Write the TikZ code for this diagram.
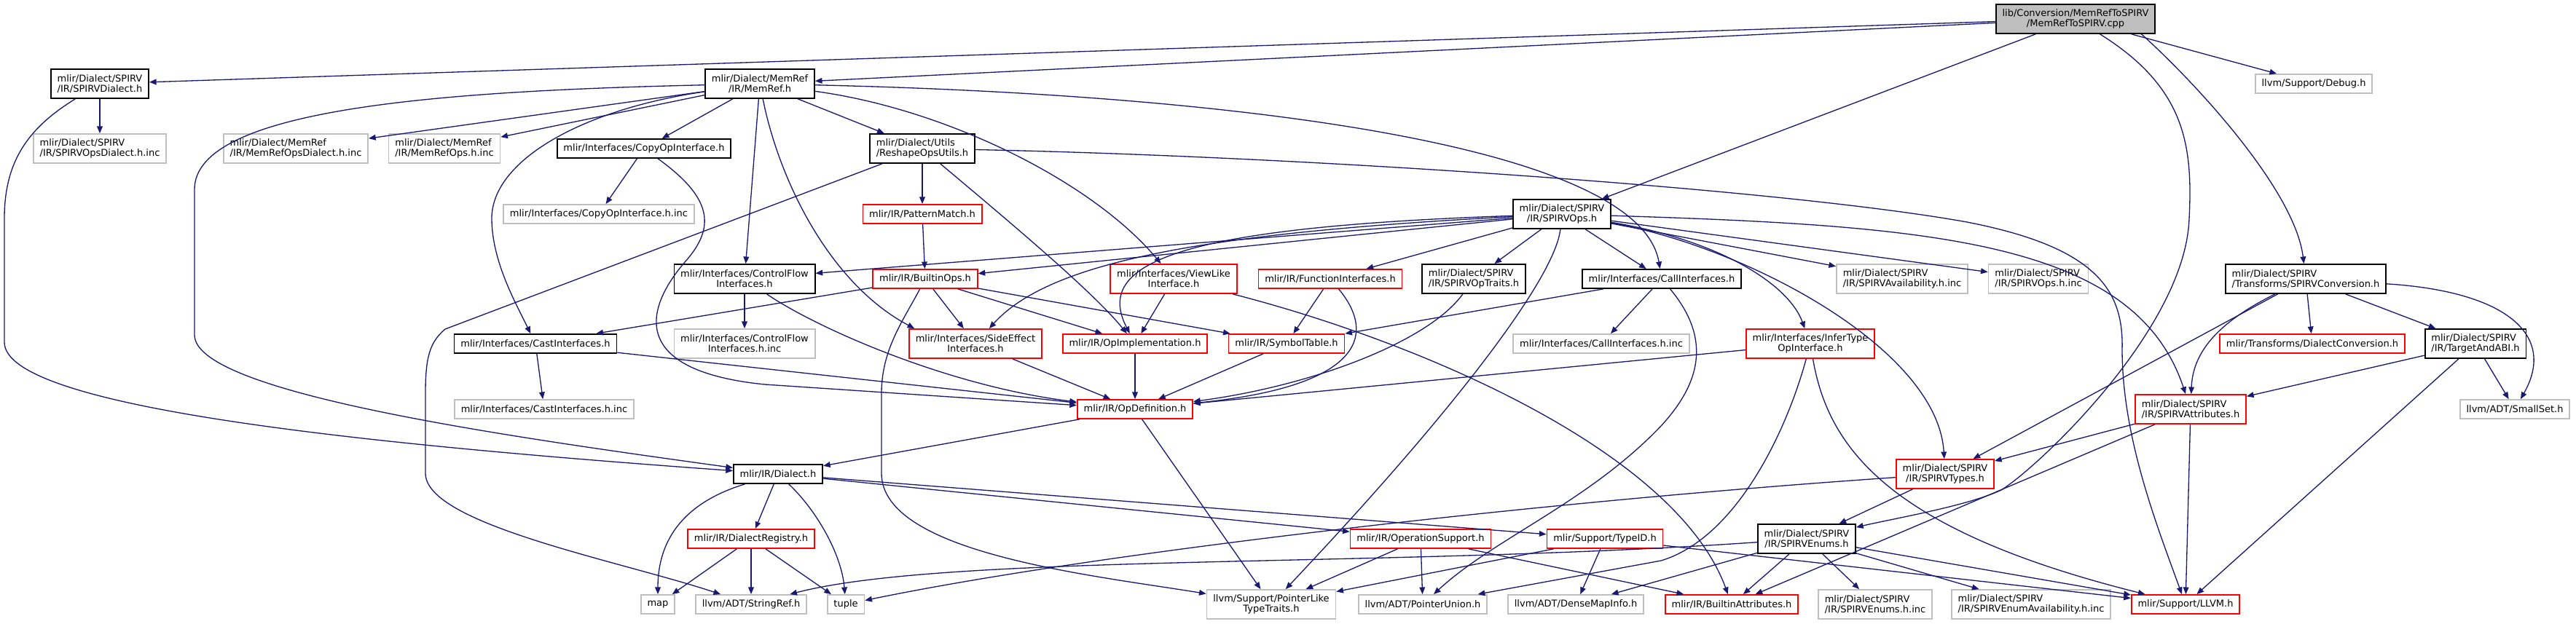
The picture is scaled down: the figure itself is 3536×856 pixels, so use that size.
\documentclass[tikz,border=0pt]{standalone}
\usepackage{fontspec}
\usepackage{tikz}
\usetikzlibrary{arrows.meta}
\newfontfamily\dxfont{DejaVu Sans}
\definecolor{edgeblue}{RGB}{25,25,112}
\definecolor{extgray}{RGB}{191,191,191}
\definecolor{rootgray}{RGB}{191,191,191}
\tikzset{
  hdrbox/.style={rectangle, draw=black, fill=white, align=center,
    inner xsep=5pt, inner ysep=2pt, minimum height=0.52cm,
    font=\dxfont\fontsize{7.4pt}{8pt}\selectfont, line width=1pt},
  redbox/.style={hdrbox, draw=red},
  extbox/.style={hdrbox, draw=extgray},
  rootbox/.style={hdrbox, fill=rootgray},
  tall/.style={minimum height=0.8cm, align=center},
  tallL/.style={minimum height=0.8cm, align=left},
  arrow/.style={-{Triangle[length=5.5pt, width=4.4pt]}, line width=0.75pt, color=edgeblue}
}

\begin{document}
\begin{tikzpicture}[x=0.02cm, y=-0.02cm]
  \useasboundingbox (0,0) rectangle (3536,856);

  % Source file
  \node[rootbox, tall] (cpp) at (2849,26) {lib/Conversion/MemRefToSPIRV\\/MemRefToSPIRV.cpp};

  % Headers, rank by rank
  \node[hdrbox, tall] (spvdialect) at (137,115) {mlir/Dialect/SPIRV\\/IR/SPIRVDialect.h};
  \node[hdrbox, tall] (memref) at (1043,115) {mlir/Dialect/MemRef\\/IR/MemRef.h};
  \node[extbox] (debug) at (3176,115) {llvm/Support/Debug.h};

  \node[extbox, tallL] (spvopsdialectinc) at (137,204) {mlir/Dialect/SPIRV\\/IR/SPIRVOpsDialect.h.inc};
  \node[extbox, tallL] (memrefopsdialectinc) at (406,204) {mlir/Dialect/MemRef\\/IR/MemRefOpsDialect.h.inc};
  \node[extbox, tallL] (memrefopsinc) at (610,204) {mlir/Dialect/MemRef\\/IR/MemRefOps.h.inc};
  \node[hdrbox] (copyop) at (884,204) {mlir/Interfaces/CopyOpInterface.h};
  \node[hdrbox, tallL] (reshape) at (1266,204) {mlir/Dialect/Utils\\/ReshapeOpsUtils.h};

  \node[extbox] (copyopinc) at (822,294) {mlir/Interfaces/CopyOpInterface.h.inc};
  \node[redbox] (patternmatch) at (1266,294) {mlir/IR/PatternMatch.h};
  \node[hdrbox, tall] (spvops) at (2144,294) {mlir/Dialect/SPIRV\\/IR/SPIRVOps.h};

  \node[hdrbox, tall] (controlflow) at (1022,383) {mlir/Interfaces/ControlFlow\\Interfaces.h};
  \node[redbox] (builtinops) at (1270,383) {mlir/IR/BuiltinOps.h};
  \node[redbox, tall] (viewlike) at (1611,383) {mlir/Interfaces/ViewLike\\Interface.h};
  \node[redbox] (funcif) at (1826,383) {mlir/IR/FunctionInterfaces.h};
  \node[hdrbox, tallL] (spvoptraits) at (2023,383) {mlir/Dialect/SPIRV\\/IR/SPIRVOpTraits.h};
  \node[hdrbox] (callif) at (2281,383) {mlir/Interfaces/CallInterfaces.h};
  \node[extbox, tallL] (spvavailinc) at (2611,383) {mlir/Dialect/SPIRV\\/IR/SPIRVAvailability.h.inc};
  \node[extbox, tallL] (spvopsinc) at (2798,383) {mlir/Dialect/SPIRV\\/IR/SPIRVOps.h.inc};
  \node[hdrbox, tallL] (spvconv) at (3165,383) {mlir/Dialect/SPIRV\\/Transforms/SPIRVConversion.h};

  \node[hdrbox] (castif) at (735,472) {mlir/Interfaces/CastInterfaces.h};
  \node[extbox, tall] (controlflowinc) at (1022,472) {mlir/Interfaces/ControlFlow\\Interfaces.h.inc};
  \node[redbox, tall] (sideeffect) at (1339,472) {mlir/Interfaces/SideEffect\\Interfaces.h};
  \node[redbox] (opimpl) at (1558,472) {mlir/IR/OpImplementation.h};
  \node[redbox] (symtab) at (1766,472) {mlir/IR/SymbolTable.h};
  \node[extbox] (callifinc) at (2198,472) {mlir/Interfaces/CallInterfaces.h.inc};
  \node[redbox, tall] (infertype) at (2485,472) {mlir/Interfaces/InferType\\OpInterface.h};
  \node[redbox] (dialectconv) at (3174,472) {mlir/Transforms/DialectConversion.h};
  \node[hdrbox, tallL] (targetabi) at (3398,472) {mlir/Dialect/SPIRV\\/IR/TargetAndABI.h};

  \node[extbox] (castifinc) at (747,562) {mlir/Interfaces/CastInterfaces.h.inc};
  \node[redbox] (opdef) at (1558,562) {mlir/IR/OpDefinition.h};
  \node[redbox, tallL] (spvattr) at (3007,562) {mlir/Dialect/SPIRV\\/IR/SPIRVAttributes.h};
  \node[extbox] (smallset) at (3452,562) {llvm/ADT/SmallSet.h};

  \node[hdrbox] (dialect) at (1068,651) {mlir/IR/Dialect.h};
  \node[redbox, tall] (spvtypes) at (2670,651) {mlir/Dialect/SPIRV\\/IR/SPIRVTypes.h};

  \node[redbox] (dialectreg) at (1031,740) {mlir/IR/DialectRegistry.h};
  \node[redbox] (opsupport) at (1950,740) {mlir/IR/OperationSupport.h};
  \node[redbox] (typeid) at (2203,740) {mlir/Support/TypeID.h};
  \node[hdrbox, tall] (spvenums) at (2480,740) {mlir/Dialect/SPIRV\\/IR/SPIRVEnums.h};

  \node[extbox] (map) at (903,830) {map};
  \node[extbox] (stringref) at (1031,830) {llvm/ADT/StringRef.h};
  \node[extbox] (tuple) at (1161,830) {tuple};
  \node[extbox, tall] (ptrlike) at (1745,830) {llvm/Support/PointerLike\\TypeTraits.h};
  \node[extbox] (ptrunion) at (1953,830) {llvm/ADT/PointerUnion.h};
  \node[extbox] (densemap) at (2163,830) {llvm/ADT/DenseMapInfo.h};
  \node[redbox] (builtinattr) at (2377,830) {mlir/IR/BuiltinAttributes.h};
  \node[extbox, tallL] (spvenumsinc) at (2574,830) {mlir/Dialect/SPIRV\\/IR/SPIRVEnums.h.inc};
  \node[extbox, tallL] (spvenumavailinc) at (2788,830) {mlir/Dialect/SPIRV\\/IR/SPIRVEnumAvailability.h.inc};
  \node[redbox] (llvm) at (3000,830) {mlir/Support/LLVM.h};

  % From the source file
  \draw[arrow] (cpp) -- (spvdialect);
  \draw[arrow] (cpp) -- (memref);
  \draw[arrow] (cpp) -- (spvops);
  \draw[arrow] (cpp) -- (debug);
  \draw[arrow] (cpp.347) .. controls (3010,110) and (3150,260) .. (spvconv);
  \draw[arrow] (cpp) .. controls (3000,120) and (3010,200) .. (3005,300)
    .. controls (3000,450) and (2800,640) .. (2747,673)
    .. controls (2700,695) and (2600,712) .. (spvenums);

  % From SPIRVDialect.h
  \draw[arrow] (spvdialect) -- (spvopsdialectinc);
  \draw[arrow] (spvdialect) .. controls (40,175) and (6,220) .. (6,300) -- (6,470)
    .. controls (6,560) and (500,610) .. (dialect);

  % From MemRef.h
  \draw[arrow] (memref) .. controls (600,125) and (267,150) .. (267,260) -- (267,460)
    .. controls (267,540) and (700,600) .. (dialect);
  \draw[arrow] (memref) -- (memrefopsdialectinc);
  \draw[arrow] (memref) -- (memrefopsinc);
  \draw[arrow] (memref) .. controls (800,150) and (675,220) .. (675,300)
    .. controls (675,360) and (710,420) .. (castif);
  \draw[arrow] (memref) -- (copyop);
  \draw[arrow] (memref) -- (controlflow);
  \draw[arrow] (memref) .. controls (1070,250) and (1140,390) .. (sideeffect.166);
  \draw[arrow] (memref) -- (reshape);
  \draw[arrow] (memref) .. controls (1300,150) and (1500,250) .. (viewlike);
  \draw[arrow] (memref) .. controls (1700,130) and (2250,200) .. (callif);

  % From ReshapeOpsUtils.h
  \draw[arrow] (reshape) -- (patternmatch);
  \draw[arrow] (reshape) .. controls (1380,300) and (1500,400) .. (opimpl);
  \draw[arrow] (reshape) -- (611,452) .. controls (590,470) and (584,490) .. (584,540)
    -- (584,650) .. controls (584,720) and (850,770) .. (stringref);
  \draw[arrow] (reshape) .. controls (1800,215) and (2450,260) .. (2700,305)
    .. controls (2880,340) and (2915,400) .. (2913,480)
    .. controls (2913,600) and (2960,720) .. (llvm);

  % From CopyOpInterface.h, ControlFlowInterfaces.h, CastInterfaces.h
  \draw[arrow] (copyop) -- (copyopinc);
  \draw[arrow] (copyop) .. controls (975,270) and (985,310) .. (940,360)
    .. controls (880,430) and (870,510) .. (1050,528) -- (opdef);
  \draw[arrow] (controlflow) -- (controlflowinc);
  \draw[arrow] (controlflow) .. controls (1120,450) and (1300,530) .. (opdef);
  \draw[arrow] (castif) -- (castifinc);
  \draw[arrow] (castif) -- (opdef);

  % From PatternMatch.h, BuiltinOps.h
  \draw[arrow] (patternmatch) -- (builtinops);
  \draw[arrow] (builtinops) -- (castif);
  \draw[arrow] (builtinops) -- (sideeffect);
  \draw[arrow] (builtinops) -- (opimpl);
  \draw[arrow] (builtinops) -- (symtab);
  \draw[arrow] (builtinops) .. controls (1240,440) and (1210,480) .. (1210,540) -- (1210,650)
    .. controls (1210,760) and (1500,790) .. (ptrlike);

  % From SPIRVOps.h
  \draw[arrow] (spvops) -- (controlflow);
  \draw[arrow] (spvops) -- (builtinops);
  \draw[arrow] (spvops) .. controls (1650,320) and (1440,360) .. (sideeffect);
  \draw[arrow] (spvops) .. controls (1620,312) and (1500,360) .. (opimpl);
  \draw[arrow] (spvops) -- (funcif);
  \draw[arrow] (spvops) -- (spvoptraits);
  \draw[arrow] (spvops) .. controls (2135,380) and (2000,560) .. (ptrlike);
  \draw[arrow] (spvops) -- (callif);
  \draw[arrow] (spvops) .. controls (2360,330) and (2455,390) .. (infertype);
  \draw[arrow] (spvops) .. controls (2400,340) and (2660,480) .. (spvtypes);
  \draw[arrow] (spvops) -- (spvavailinc);
  \draw[arrow] (spvops) -- (spvopsinc);
  \draw[arrow] (spvops) .. controls (2650,310) and (2930,330) .. (spvattr);

  % From the interface headers
  \draw[arrow] (viewlike) -- (opimpl);
  \draw[arrow] (viewlike) .. controls (1950,470) and (2300,620) .. (builtinattr);
  \draw[arrow] (funcif) -- (symtab);
  \draw[arrow] (funcif) .. controls (1890,460) and (1870,530) .. (opdef);
  \draw[arrow] (spvoptraits) .. controls (1960,470) and (1800,530) .. (opdef);
  \draw[arrow] (callif) -- (symtab);
  \draw[arrow] (callif) -- (callifinc);
  \draw[arrow] (callif) .. controls (2345,460) and (2340,520) .. (2280,585)
    .. controls (2180,690) and (2050,740) .. (ptrunion);
  \draw[arrow] (infertype) -- (opdef);
  \draw[arrow] (infertype) .. controls (2450,600) and (2380,740) .. (2280,770) -- (ptrunion);
  \draw[arrow] (infertype) .. controls (2510,620) and (2600,730) .. (llvm);
  \draw[arrow] (sideeffect) -- (opdef);
  \draw[arrow] (opimpl) -- (opdef);
  \draw[arrow] (symtab) -- (opdef);

  % From SPIRVConversion.h, TargetAndABI.h, SPIRVAttributes.h
  \draw[arrow] (spvconv) -- (spvtypes);
  \draw[arrow] (spvconv) .. controls (3050,440) and (3010,480) .. (spvattr);
  \draw[arrow] (spvconv) -- (dialectconv);
  \draw[arrow] (spvconv) -- (targetabi);
  \draw[arrow] (spvconv) .. controls (3440,400) and (3510,460) .. (smallset);
  \draw[arrow] (targetabi) -- (spvattr);
  \draw[arrow] (targetabi) -- (llvm);
  \draw[arrow] (targetabi) -- (smallset);
  \draw[arrow] (spvattr) -- (spvtypes);
  \draw[arrow] (spvattr) -- (builtinattr);
  \draw[arrow] (spvattr) -- (llvm);

  % From OpDefinition.h, Dialect.h, DialectRegistry.h
  \draw[arrow] (opdef) -- (dialect);
  \draw[arrow] (opdef) -- (ptrlike);
  \draw[arrow] (dialect) .. controls (940,690) and (903,740) .. (map);
  \draw[arrow] (dialect) -- (dialectreg);
  \draw[arrow] (dialect) .. controls (1120,700) and (1155,760) .. (tuple);
  \draw[arrow] (dialect) -- (typeid);
  \draw[arrow] (dialect) -- (opsupport);
  \draw[arrow] (dialectreg) -- (map);
  \draw[arrow] (dialectreg) -- (stringref);
  \draw[arrow] (dialectreg) -- (tuple);

  % From OperationSupport.h, TypeID.h
  \draw[arrow] (opsupport) -- (ptrlike);
  \draw[arrow] (opsupport) -- (ptrunion);
  \draw[arrow] (opsupport) -- (builtinattr);
  \draw[arrow] (typeid) -- (ptrlike);
  \draw[arrow] (typeid) -- (densemap);
  \draw[arrow] (typeid) -- (llvm);

  % From SPIRVTypes.h, SPIRVEnums.h
  \draw[arrow] (spvtypes) -- (spvenums);
  \draw[arrow] (spvtypes) .. controls (2100,690) and (1500,760) .. (tuple);
  \draw[arrow] (spvenums) .. controls (1900,780) and (1300,760) .. (stringref);
  \draw[arrow] (spvenums) -- (densemap);
  \draw[arrow] (spvenums) -- (builtinattr);
  \draw[arrow] (spvenums) -- (spvenumsinc);
  \draw[arrow] (spvenums) -- (spvenumavailinc);
  \draw[arrow] (spvenums) -- (llvm);
\end{tikzpicture}
\end{document}
